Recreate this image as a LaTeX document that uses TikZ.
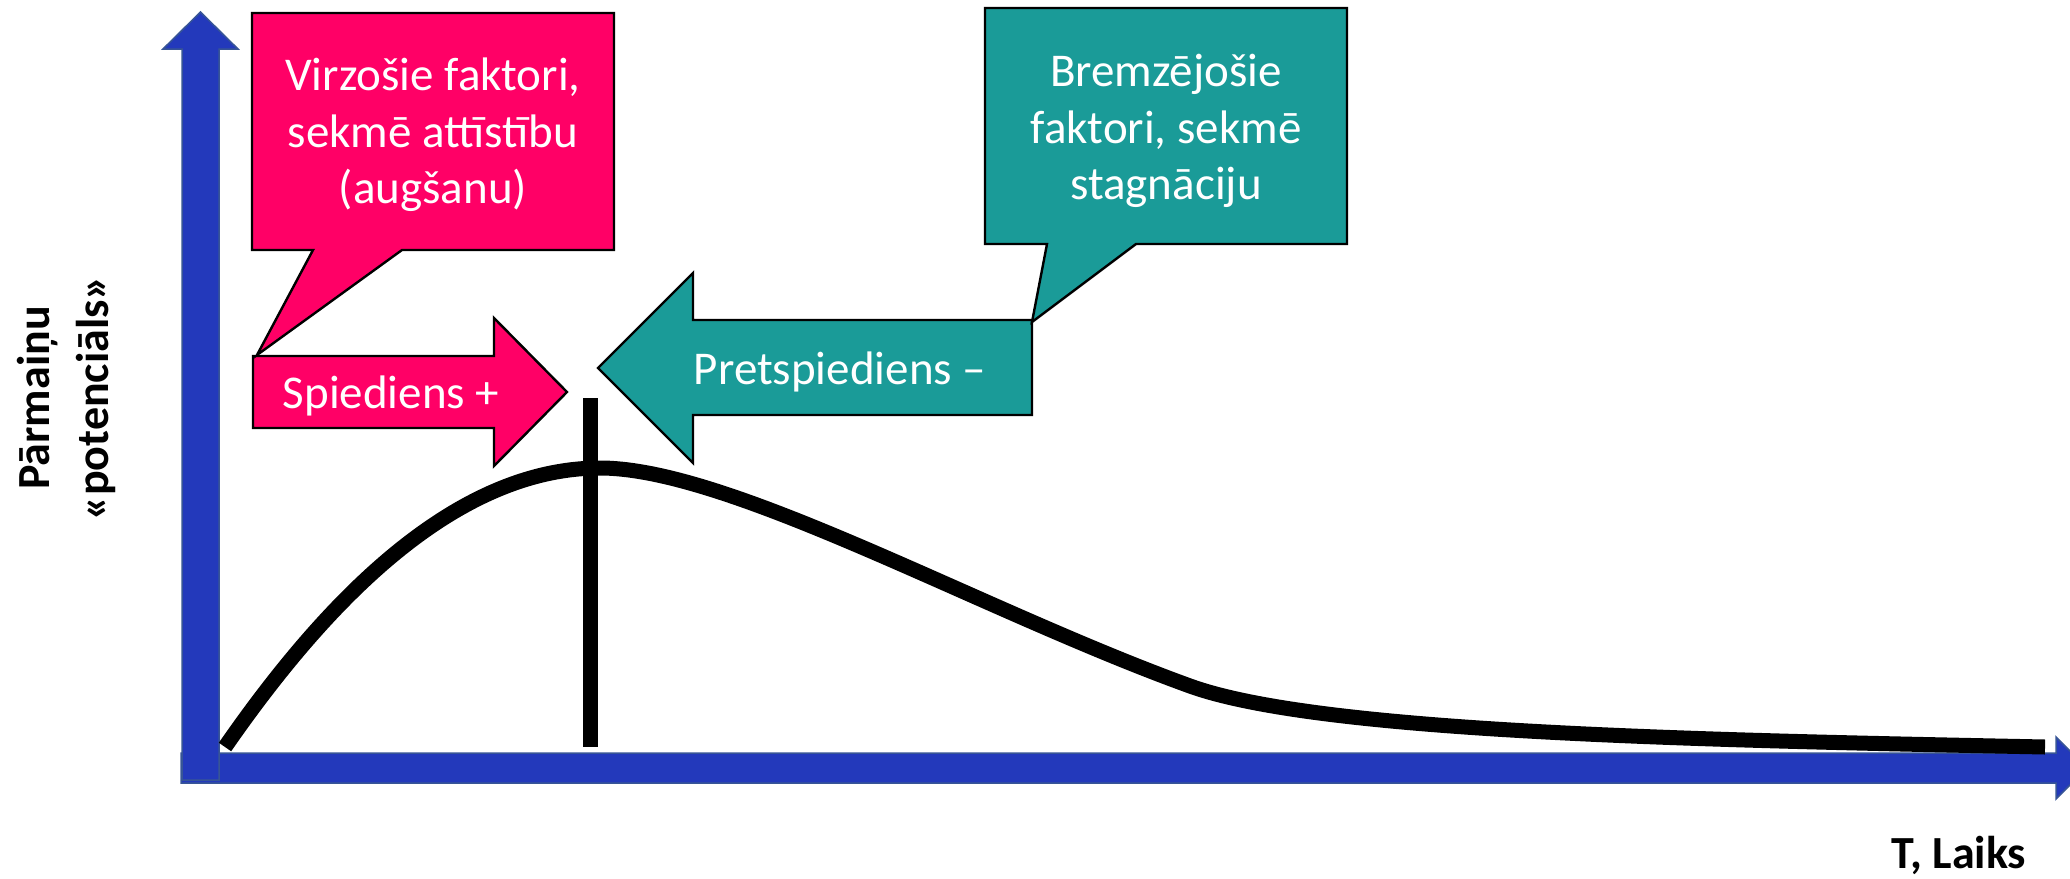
\documentclass[tikz,border=0pt]{standalone}
\usepackage{fontspec}
\setmainfont{Carlito}
\usetikzlibrary{positioning}

\definecolor{rozs}{RGB}{255,0,102}
\definecolor{tirkizs}{RGB}{26,155,152}
\definecolor{zils}{RGB}{35,57,187}
\definecolor{zilsmala}{RGB}{55,85,150}

\begin{document}
\begin{tikzpicture}[x=0.5pt, y=-0.5pt,
  ass/.style = {fill=zils, draw=zilsmala, line width=0.75pt},
  forma/.style = {draw=black, line width=1.2pt, miter limit=10},
  teksts/.style = {text=white, font=\fontsize{23.5pt}{28.3pt}\selectfont, align=center, inner sep=0pt},
  asstxt/.style = {font=\fontsize{23pt}{29.5pt}\selectfont\bfseries, align=center, inner sep=0pt}]
\path[use as bounding box, clip] (0,0) rectangle (2070,878);

% asis
\filldraw[ass] (181,753) -- (2056,753) -- (2056,737) -- (2087,768) -- (2056,799) -- (2056,783) -- (181,783) -- cycle;
\filldraw[ass] (182,780) -- (182,49) -- (163,49) -- (200.5,12) -- (238,49) -- (219,49) -- (219,780) -- cycle;

% likne un virsotne
\draw[line width=7.5pt] (225,747) .. controls (320,610) and (450,468) .. (600,468)
  .. controls (730,468) and (980,610) .. (1190,686)
  .. controls (1320,733) and (1700,740) .. (2045,747);
\coordinate (augsa) at (590,398);
\coordinate (apaksa) at (590,747);
\draw[line width=7.5pt] (augsa) -- (apaksa);

% bultas un izsaukumi
\filldraw[forma, fill=rozs] (253,356) -- (494,356) -- (494,318) -- (567,392) -- (494,466) -- (494,428) -- (253,428) -- cycle;
\filldraw[forma, fill=rozs] (252,13) -- (614,13) -- (614,250) -- (402,250) -- (257,355) -- (313,250) -- (252,250) -- cycle;
\filldraw[forma, fill=tirkizs] (598,368) -- (693,273) -- (693,320) -- (1032,320) -- (1032,415) -- (693,415) -- (693,463) -- cycle;
\filldraw[forma, fill=tirkizs] (985,8) -- (1347,8) -- (1347,244) -- (1136,244) -- (1032,322) -- (1047,244) -- (985,244) -- cycle;

\node[teksts] (virz) at (433,135) {Virzošie faktori,\\sekmē attīstību\\(augšanu)};
\node[teksts] (brem) at (1166,131) {Bremzējošie\\faktori, sekmē\\stagnāciju};
\node[teksts, anchor=base] (spied) at (391,408) {Spiediens +};
\node[teksts, anchor=base] (pret) at (840,384) {Pretspiediens –};

\node[asstxt, anchor=base] (laiks) at (1959,868) {T, Laiks};
\node[asstxt, rotate=90] (potenc) at (66,398) {Pārmaiņu\\«potenciāls»};

\end{tikzpicture}
\end{document}
